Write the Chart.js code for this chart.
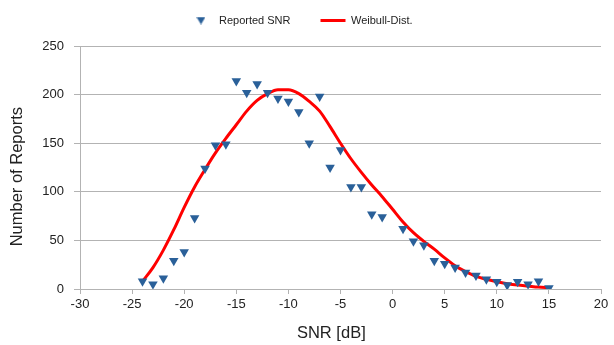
<!DOCTYPE html>
<html>
<head>
<meta charset="utf-8">
<title>SNR Reports</title>
<script src="https://cdn.jsdelivr.net/npm/chart.js@4"></script>
<style>
    html, body { margin: 0; padding: 0; background: #fff; }
    #wrap { width: 614px; height: 345px; }
</style>
</head>
<body>
<div id="wrap"><canvas id="snrChart" width="614" height="345"></canvas></div>
<script>
// === Data ===
const snrValues = [-24, -23, -22, -21, -20, -19, -18, -17, -16, -15, -14, -13, -12, -11, -10, -9, -8, -7, -6, -5, -4, -3, -2, -1,
    1, 2, 3, 4, 5, 6, 7, 8, 9, 10, 11, 12, 13, 14, 15];
const reportCounts = [8, 5, 11, 29, 38, 73, 124, 148, 149, 214, 202, 211, 202, 196, 193, 182, 150, 198, 125, 143, 105, 105, 77, 74,
    62, 49, 45, 29, 26, 22, 17, 14, 10, 7.5, 4, 7.5, 5, 8, 1];

const fitX = [-24, -23, -22, -21, -20, -19, -18, -17, -16, -15, -14, -13, -12, -11, -10, -9, -8, -7, -6, -5, -4, -3, -2, -1,
    0, 1, 2, 3, 4, 5, 6, 7, 8, 9, 10, 11, 12, 13, 14, 15];
const fitY = [8, 22, 40, 61, 84, 105, 123, 140, 155, 169, 183, 194, 201, 205, 205, 201, 193, 183, 167, 150, 134, 120, 107, 95,
    82, 69, 58, 49, 41, 32, 24, 18, 13, 10, 7.5, 5.5, 4, 3, 2, 1.5];

const xTicks = { min: -30, max: 20, step: 5 };
const yTicks = { min: 0, max: 250, step: 50 };

const seriesNames = ['Reported SNR', 'Weibull-Dist.'];
// trailing spaces nudge the titles off-centre like the original
const axisTitles = { x: 'SNR [dB]    ', y: 'Number of Reports    ' };

// === Chart ===
const FONT = "'Liberation Sans', Arial, sans-serif";
const gridGray = '#b3b3b3';
const markerBlue = '#2a6099';

// small down-triangle for the legend (the built-in one gets stretched by pointStyleWidth)
const legendTri = document.createElement('canvas');
legendTri.width = 9;
legendTri.height = 8;
(() => {
    const c = legendTri.getContext('2d');
    c.fillStyle = markerBlue;
    c.beginPath();
    c.moveTo(0, 0.5);
    c.lineTo(9, 0.5);
    c.lineTo(4.5, 8);
    c.closePath();
    c.fill();
})();

// legend gets a little extra room below it so the plot starts where it should
const legendSpacer = {
    id: 'legendSpacer',
    beforeInit(chart) {
        const origFit = chart.legend.fit;
        chart.legend.fit = function () {
            origFit.bind(chart.legend)();
            this.height += 10;
        };
    }
};

const ctx = document.getElementById('snrChart').getContext('2d');
new Chart(ctx, {
    type: 'scatter',
    data: {
        datasets: [
            {
                label: seriesNames[0],
                data: snrValues.map((x, i) => ({ x: x, y: reportCounts[i] })),
                pointStyle: 'triangle',
                rotation: 180,
                pointRadius: 5.5,
                backgroundColor: markerBlue,
                borderColor: markerBlue,
                borderWidth: 0
            },
            {
                type: 'line',
                label: seriesNames[1],
                data: fitX.map((x, i) => ({ x: x, y: fitY[i] })),
                borderColor: '#ff0000',
                borderWidth: 3,
                cubicInterpolationMode: 'monotone',
                pointRadius: 0,
                pointStyle: 'line',
                pointBorderColor: '#ff0000',
                pointBorderWidth: 3,
                fill: false
            }
        ]
    },
    options: {
        responsive: false,
        animation: false,
        layout: { padding: { top: -15, right: 13, bottom: 0, left: 0 } },
        plugins: {
            tooltip: { enabled: false },
            legend: {
                position: 'top',
                labels: {
                    usePointStyle: true,
                    pointStyleWidth: 25,
                    boxHeight: 7,
                    padding: 30,
                    color: '#222',
                    font: { family: FONT, size: 11 },
                    generateLabels: (chart) => {
                        const items = Chart.defaults.plugins.legend.labels.generateLabels(chart);
                        items[0].pointStyle = legendTri;
                        items[0].rotation = 0;
                        return items;
                    }
                }
            }
        },
        scales: {
            x: {
                type: 'linear',
                min: xTicks.min,
                max: xTicks.max,
                afterFit: (axis) => { axis.height = 56; },
                ticks: {
                    stepSize: xTicks.step,
                    color: '#222',
                    padding: 3,
                    maxRotation: 0,
                    font: { family: FONT, size: 13 }
                },
                grid: { drawOnChartArea: false, color: gridGray, tickLength: 5 },
                border: { color: gridGray },
                title: {
                    display: true,
                    text: axisTitles.x,
                    color: '#222',
                    font: { family: FONT, size: 16.5 },
                    padding: { top: 4, bottom: 2 }
                }
            },
            y: {
                min: yTicks.min,
                max: yTicks.max,
                afterFit: (axis) => { axis.width = 80; },
                ticks: {
                    stepSize: yTicks.step,
                    color: '#222',
                    padding: 10,
                    font: { family: FONT, size: 13 }
                },
                grid: { color: gridGray, tickLength: 6 },
                border: { color: gridGray },
                title: {
                    display: true,
                    text: axisTitles.y,
                    color: '#222',
                    font: { family: FONT, size: 16.5 },
                    padding: { top: 8, bottom: 0 }
                }
            }
        }
    },
    plugins: [legendSpacer]
});
</script>
</body>
</html>
